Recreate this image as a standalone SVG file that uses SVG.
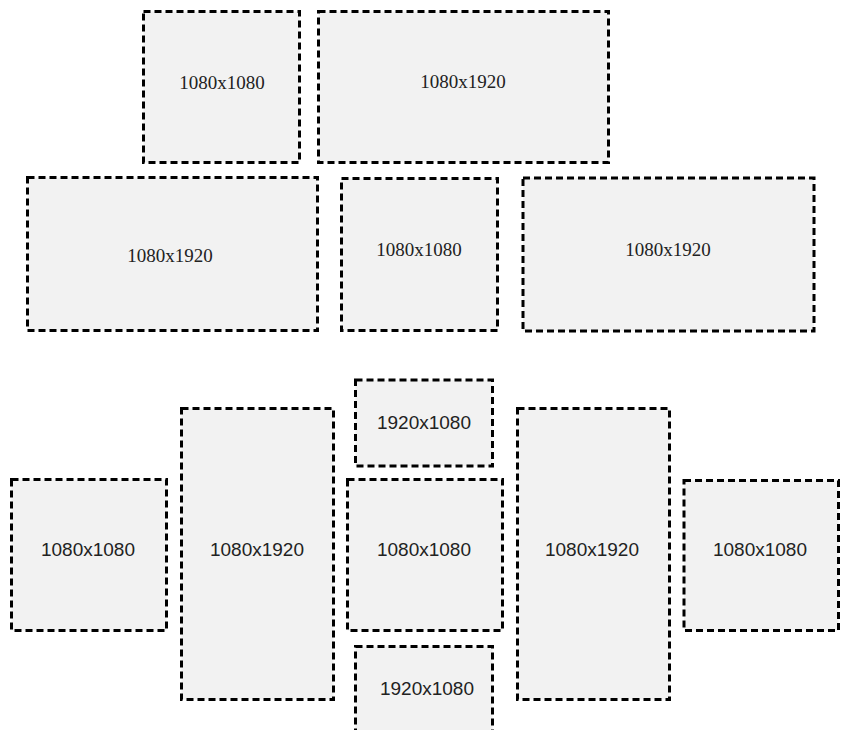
<svg xmlns="http://www.w3.org/2000/svg" width="842" height="730" viewBox="0 0 842 730">
<style>
.box{fill:#f2f2f2;stroke:#000;stroke-width:3;stroke-dasharray:7 4}
.serif{font-family:"Liberation Serif","Times New Roman",serif;font-size:19px;fill:#222;text-anchor:middle}
.sans{font-family:"Liberation Sans",Arial,sans-serif;font-size:19px;fill:#222;text-anchor:middle}
</style>
<rect width="842" height="730" fill="#fff"/>
<g id="top-a"><rect class="box" x="143.5" y="11.5" width="156" height="151"/><text class="serif" x="222" y="89">1080x1080</text></g>
<g id="top-b"><rect class="box" x="318.5" y="11.5" width="290" height="151"/><text class="serif" x="463" y="88">1080x1920</text></g>
<g id="top-c"><rect class="box" x="27.5" y="177.5" width="290" height="153"/><text class="serif" x="170" y="262">1080x1920</text></g>
<g id="top-d"><rect class="box" x="341.5" y="178.5" width="156" height="152"/><text class="serif" x="419" y="256">1080x1080</text></g>
<g id="top-e"><rect class="box" x="523" y="178" width="291" height="153"/><text class="serif" x="668" y="256">1080x1920</text></g>
<g id="bot-f"><rect class="box" x="11.5" y="479.5" width="155" height="151"/><text class="sans" x="88" y="556">1080x1080</text></g>
<g id="bot-g"><rect class="box" x="181.5" y="408.5" width="152" height="291"/><text class="sans" x="257" y="556">1080x1920</text></g>
<g id="bot-h"><rect class="box" x="355.5" y="380" width="137" height="86"/><text class="sans" x="424" y="429">1920x1080</text></g>
<g id="bot-i"><rect class="box" x="347.5" y="479.5" width="155" height="151"/><text class="sans" x="424" y="556">1080x1080</text></g>
<g id="bot-j"><rect class="box" x="355.5" y="646.5" width="137" height="100"/><text class="sans" x="427" y="695">1920x1080</text></g>
<g id="bot-k"><rect class="box" x="517.5" y="408.5" width="152" height="291"/><text class="sans" x="592" y="556">1080x1920</text></g>
<g id="bot-l"><rect class="box" x="684" y="480.5" width="154.5" height="150"/><text class="sans" x="760" y="556">1080x1080</text></g>
<g id="connectors"/>
</svg>
